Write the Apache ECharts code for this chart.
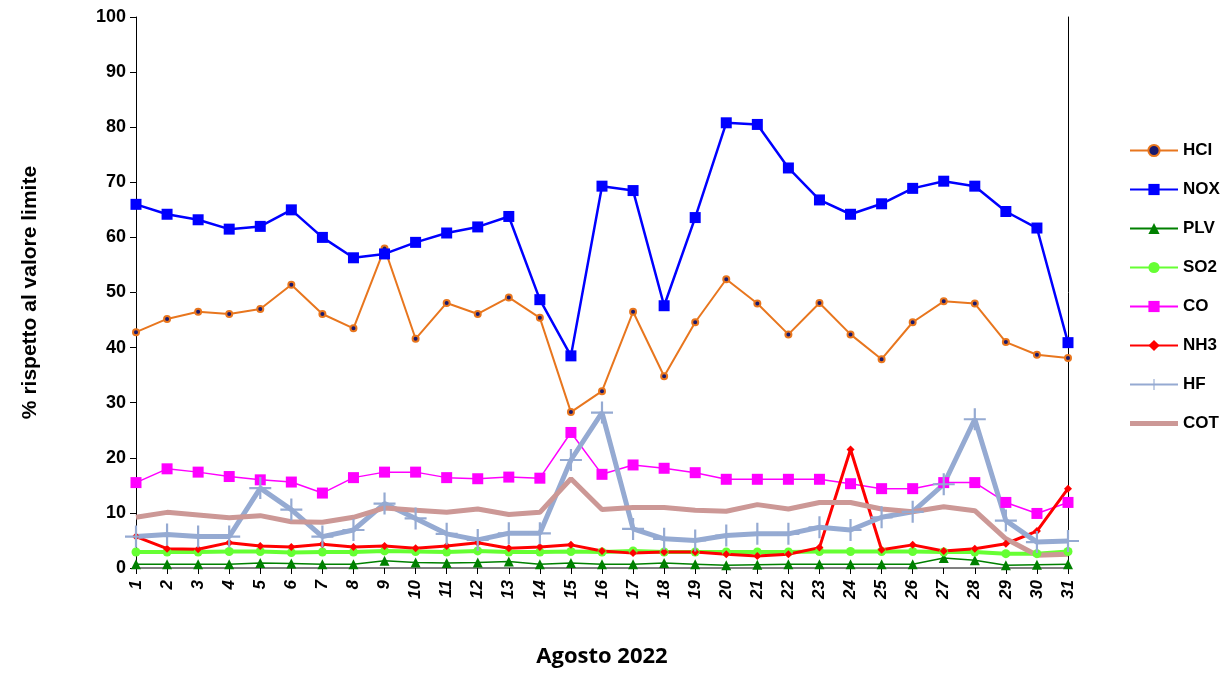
<!DOCTYPE html>
<html lang="it">
  <head>
    <meta charset="UTF-8" />
    <title>Agosto 2022</title>
    <script src="https://cdn.jsdelivr.net/npm/echarts@6/dist/echarts.min.js"></script>
    <style>
      html, body { margin: 0; padding: 0; background: #fff; }
      #chart { width: 1230px; height: 673px; }
    </style>
  </head>
  <body>
    <div id="chart"></div>
    <script>
      // giorni del mese
      var days = [];
      for (var d = 1; d <= 31; d++) days.push(String(d));

      var yTicks = [0, 10, 20, 30, 40, 50, 60, 70, 80, 90, 100];

      // valori (% rispetto al valore limite)
      var hcl = [42.8, 45.2, 46.5, 46.1, 47.0, 51.4, 46.1, 43.5, 58.0, 41.6, 48.1, 46.1, 49.1, 45.4, 28.3, 32.1,
                 46.5, 34.8, 44.6, 52.4, 48.0, 42.4, 48.1, 42.4, 37.9, 44.6, 48.4, 48.0, 41.0, 38.7, 38.1];
      var nox = [66.0, 64.2, 63.2, 61.5, 62.0, 65.0, 60.0, 56.3, 57.0, 59.1, 60.8, 61.9, 63.8, 48.7, 38.5, 69.3,
                 68.5, 47.6, 63.6, 80.8, 80.5, 72.6, 66.8, 64.2, 66.1, 68.9, 70.2, 69.3, 64.7, 61.7, 40.9];
      var plv = [0.7, 0.7, 0.7, 0.7, 0.9, 0.8, 0.7, 0.7, 1.3, 1.0, 0.9, 1.0, 1.2, 0.7, 0.9, 0.7,
                 0.7, 0.9, 0.7, 0.5, 0.6, 0.7, 0.7, 0.7, 0.7, 0.7, 1.8, 1.4, 0.5, 0.6, 0.7];
      var so2 = [2.9, 2.9, 2.9, 3.0, 3.0, 2.8, 2.9, 2.9, 3.1, 3.0, 2.9, 3.1, 2.9, 2.9, 3.0, 2.9,
                 3.1, 2.9, 2.9, 2.9, 2.9, 2.9, 3.0, 3.0, 3.0, 3.0, 2.9, 2.9, 2.6, 2.6, 3.0];
      var co = [15.5, 18.0, 17.4, 16.6, 16.0, 15.6, 13.6, 16.4, 17.4, 17.4, 16.4, 16.2, 16.5, 16.3, 24.6, 17.0,
                18.7, 18.1, 17.3, 16.1, 16.1, 16.1, 16.1, 15.3, 14.4, 14.4, 15.5, 15.5, 11.9, 9.9, 11.9];
      var nh3 = [5.7, 3.5, 3.4, 4.6, 4.0, 3.8, 4.3, 3.8, 4.0, 3.6, 4.0, 4.6, 3.6, 3.8, 4.2, 3.1,
                 2.7, 2.9, 2.9, 2.5, 2.2, 2.5, 3.7, 21.5, 3.3, 4.2, 3.1, 3.5, 4.4, 6.7, 14.4];
      var hf = [5.7, 6.1, 5.7, 5.7, 14.5, 10.6, 5.7, 6.9, 11.7, 9.0, 6.2, 5.1, 6.3, 6.3, 19.6, 28.2,
                7.1, 5.3, 5.0, 5.9, 6.2, 6.2, 7.4, 6.9, 9.2, 10.2, 15.2, 27.0, 8.6, 4.7, 4.9];
      var cot = [9.2, 10.1, 9.6, 9.1, 9.5, 8.4, 8.3, 9.2, 10.9, 10.5, 10.1, 10.7, 9.7, 10.1, 16.2, 10.6,
                 11.0, 11.0, 10.5, 10.3, 11.5, 10.7, 11.9, 11.9, 10.7, 10.2, 11.1, 10.4, 5.3, 2.3, 2.5];

      var plus = "path://M9,0h2v20h-2zM0,9h20v2h-20z";
      var font = "'Liberation Sans', Arial, sans-serif";

      function serie(name, data, color, width, symbol, size, extra) {
        var s = {
          name: name,
          type: "line",
          data: data,
          symbol: symbol,
          symbolSize: size,
          showSymbol: symbol !== "none",
          lineStyle: { color: color, width: width },
          itemStyle: { color: color },
          animation: false
        };
        if (extra) s.itemStyle = extra;
        return s;
      }

      var chart = echarts.init(document.getElementById("chart"));
      var option = {
        backgroundColor: "#fff",
        animation: false,
        grid: { left: 136, right: 162, top: 17, bottom: 102 },
        legend: {
          orient: "vertical",
          left: 1124,
          top: 137,
          itemGap: 22,
          itemWidth: 48,
          itemHeight: 14,
          textStyle: { fontFamily: font, fontWeight: "bold", fontSize: 17, color: "#000" },
          data: [
            "HCI", "NOX", "PLV", "SO2", "CO", "NH3", "HF",
            { name: "COT", icon: "path://M0,0h48v5h-48z" }
          ]
        },
        xAxis: {
          type: "category",
          data: days,
          boundaryGap: false,
          name: "Agosto 2022",
          nameLocation: "middle",
          nameGap: 78,
          nameTextStyle: { fontFamily: "'Open Sans', sans-serif", fontWeight: "bold", fontSize: 22, color: "#000" },
          axisLine: { lineStyle: { color: "#808080", width: 2 } },
          axisTick: { alignWithLabel: true, length: 6, lineStyle: { color: "#000" } },
          axisLabel: {
            rotate: 90,
            interval: 0,
            margin: 12,
            fontFamily: font,
            fontWeight: "bold",
            fontStyle: "italic",
            fontSize: 17,
            color: "#000"
          },
          splitLine: { show: false }
        },
        yAxis: [
          {
            type: "value",
            min: yTicks[0],
            max: yTicks[yTicks.length - 1],
            interval: 10,
            name: "% rispetto al valore limite",
            nameLocation: "middle",
            nameGap: 95,
            nameTextStyle: { fontFamily: font, fontWeight: "bold", fontSize: 21, color: "#000" },
            axisLine: { show: true, lineStyle: { color: "#000", width: 1 } },
            axisTick: { show: true, length: 6, lineStyle: { color: "#000" } },
            axisLabel: { fontFamily: font, fontWeight: "bold", fontSize: 18, color: "#000", margin: 10 },
            splitLine: { show: false }
          },
          {
            type: "value",
            position: "right",
            min: 0,
            max: 100,
            interval: 10,
            axisLine: { show: true, lineStyle: { color: "#000", width: 1 } },
            axisTick: { show: false },
            axisLabel: { show: false },
            splitLine: { show: false }
          }
        ],
        series: [
          serie("HCI", hcl, "#E8761E", 2, "circle", 6, { color: "#1a1a6e", borderColor: "#E8761E", borderWidth: 2 }),
          serie("NOX", nox, "#0000FF", 2.5, "rect", 11),
          serie("PLV", plv, "#008000", 1.5, "triangle", 10),
          serie("SO2", so2, "#66FF33", 4, "circle", 9),
          serie("CO", co, "#FF00FF", 1.5, "rect", 11),
          serie("NH3", nh3, "#FF0000", 3, "diamond", 8),
          serie("HF", hf, "#95AAD2", 5, plus, 22),
          serie("COT", cot, "#CC9896", 5, "none", 0)
        ]
      };
      chart.setOption(option, true);
    </script>
  </body>
</html>
